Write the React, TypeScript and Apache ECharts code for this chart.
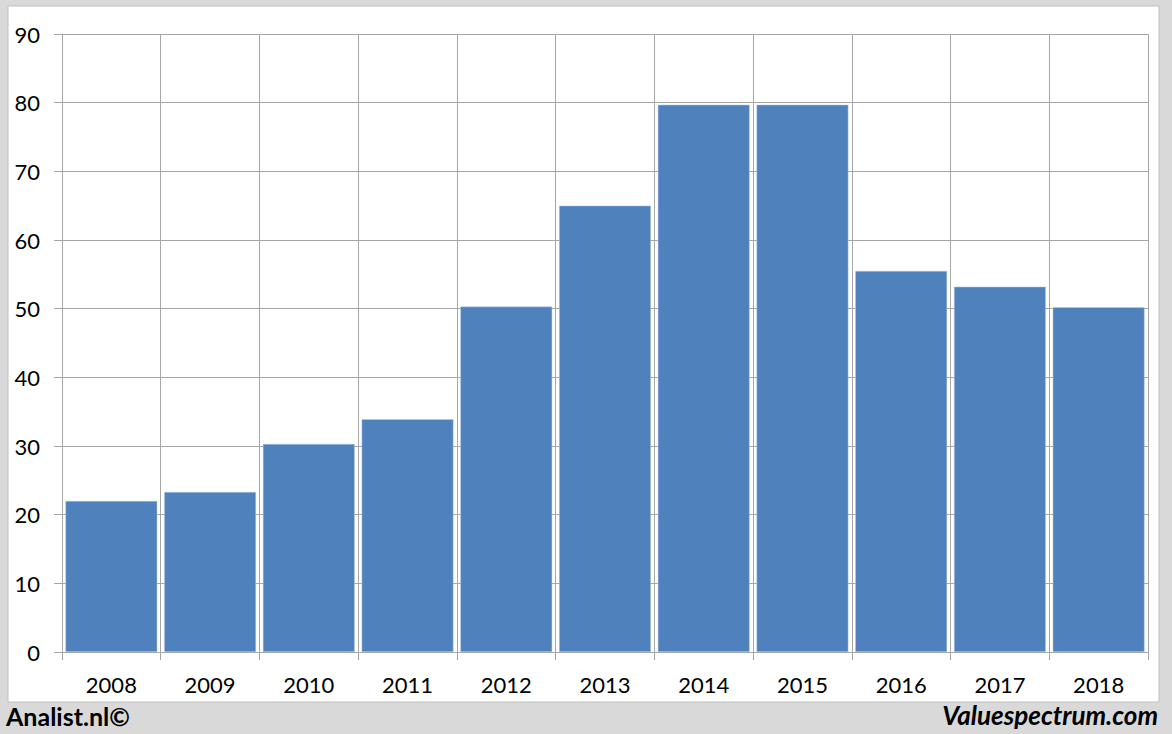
import React, { useEffect, useRef } from "react";
import * as echarts from "echarts";

const categories = ["2008", "2009", "2010", "2011", "2012", "2013", "2014", "2015", "2016", "2017", "2018"];
const values = [22.0, 23.3, 30.3, 33.9, 50.3, 65.0, 79.7, 79.7, 55.5, 53.2, 50.2];
const leftCredit = "Analist.nl©";
const rightCredit = "Valuespectrum.com";

export default function App() {
  const ref = useRef<HTMLDivElement>(null);
  useEffect(() => {
    if (!ref.current) return;
    const chart = echarts.init(ref.current, null, { renderer: "svg" });
    const grid = "#a6a6a6";
    chart.setOption({
      animation: false,
      backgroundColor: "#d9d9d9",
      textStyle: { fontFamily: "Lato, 'Open Sans', sans-serif" },
      graphic: [
        {
          type: "rect",
          shape: { x: 8, y: 6, width: 1151, height: 696 },
          style: { fill: "#ffffff", stroke: "#bfbfbf", lineWidth: 1 },
          z: -10,
        },
        {
          type: "text",
          left: 6,
          top: 703,
          style: { text: leftCredit, font: "bold 25px Lato, 'Open Sans', sans-serif", fill: "#000" },
        },
        {
          type: "text",
          right: 14,
          top: 702,
          style: { text: rightCredit, font: "italic bold 26px Lato, 'Open Sans', sans-serif", fill: "#000" },
        },
      ],
      grid: { left: 62, right: 24, top: 34, bottom: 82, containLabel: false },
      xAxis: {
        type: "category",
        data: categories,
        boundaryGap: true,
        axisLine: { show: true, lineStyle: { color: grid, width: 1 } },
        axisTick: { show: true, length: 8, alignWithLabel: false, lineStyle: { color: grid } },
        axisLabel: { color: "#000", fontSize: 22, margin: 21 },
        splitLine: { show: true, lineStyle: { color: grid, width: 1 } },
      },
      yAxis: {
        type: "value",
        min: 0,
        max: 90,
        interval: 10,
        axisLine: { show: true, lineStyle: { color: grid, width: 1 } },
        axisTick: { show: true, length: 8, lineStyle: { color: grid } },
        axisLabel: { color: "#000", fontSize: 22, margin: 22 },
        splitLine: { show: true, lineStyle: { color: grid, width: 1 } },
      },
      series: [
        {
          type: "bar",
          data: values,
          barCategoryGap: "7%",
          itemStyle: { color: "#4f81bd", borderColor: "#b9cde5", borderWidth: 0.5 },
        },
      ],
    });
    return () => chart.dispose();
  }, []);
  return (
    <div
      ref={ref}
      style={{ position: "fixed", left: 0, top: 0, width: 1172, height: 734 }}
    />
  );
}
